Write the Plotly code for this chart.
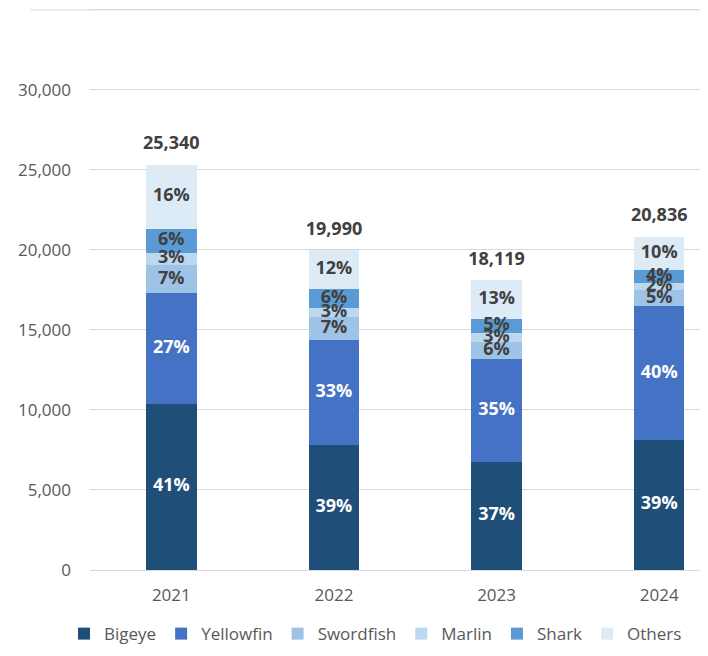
import plotly.graph_objects as go

years = ["2021", "2022", "2023", "2024"]
series_names = ["Bigeye", "Yellowfin", "Swordfish", "Marlin", "Shark", "Others"]
bigeye = [10390, 7790, 6760, 8130]
yellowfin = [6900, 6600, 6400, 8340]
swordfish = [1780, 1400, 1060, 1040]
marlin = [760, 600, 580, 420]
shark = [1480, 1200, 900, 830]
others = [4030, 2400, 2419, 2076]
y_ticks = [0, 5000, 10000, 15000, 20000, 25000, 30000, 35000]

series = [bigeye, yellowfin, swordfish, marlin, shark, others]
colors = ["#1F4E79", "#4472C4", "#9DC3E6", "#BDD7EE", "#5B9BD5", "#DDEBF7"]
text_colors = ["#FFFFFF", "#FFFFFF", "#404040", "#404040", "#404040", "#404040"]
totals = [sum(v) for v in zip(*series)]

FONT = "Open Sans"
fig = go.Figure()
for name, vals, col in zip(series_names, series, colors):
    fig.add_trace(go.Bar(
        name=name, x=years, y=vals, marker=dict(color=col, line=dict(width=0)),
        hoverinfo="skip",
    ))

# percentage labels at the middle of each stacked segment
base = [0] * len(years)
for name, vals, tcol in zip(series_names, series, text_colors):
    mids = [b + v / 2 for b, v in zip(base, vals)]
    pct = [f"{round(v / t * 100):.0f}%" for v, t in zip(vals, totals)]
    fig.add_trace(go.Scatter(
        x=years, y=mids, text=pct, mode="text", textposition="middle center",
        textfont=dict(family=FONT, size=18, color=tcol, weight="bold"),
        showlegend=False, hoverinfo="skip", cliponaxis=False,
    ))
    base = [b + v for b, v in zip(base, vals)]

# totals above each bar
fig.add_trace(go.Scatter(
    x=years, y=totals, text=[f"{t:,}" for t in totals], mode="markers+text",
    textposition="top center", marker=dict(size=16, color="rgba(0,0,0,0)"),
    textfont=dict(family=FONT, size=18, color="#404040", weight="bold"),
    showlegend=False, hoverinfo="skip", cliponaxis=False,
))

# top frame line extending over the label area
fig.add_shape(type="line", xref="paper", yref="y", x0=-0.097, x1=1,
              y0=y_ticks[-1], y1=y_ticks[-1], line=dict(color="#D9D9D9", width=1),
              layer="below")

# page body adds an 8px offset; margins compensate for it
fig.update_layout(
    width=708, height=656,
    margin=dict(l=82, r=8, t=0, b=94, autoexpand=False),
    barmode="stack", bargap=0.69,
    plot_bgcolor="white", paper_bgcolor="white",
    showlegend=True,
    legend=dict(orientation="h", x=0.462, xanchor="center", y=-0.114, yanchor="middle",
                font=dict(family=FONT, size=17, color="#595959"),
                traceorder="normal", itemwidth=30),
    font=dict(family=FONT),
)
fig.update_xaxes(type="category", range=[-0.5, 3.3], showgrid=False, showline=True,
                 linecolor="#D9D9D9", ticks="", automargin=False, ticklabelstandoff=10,
                 tickfont=dict(family=FONT, size=17, color="#595959"))
fig.update_yaxes(range=[0, 35120], tickvals=y_ticks,
                 ticktext=[f"{v:,}" for v in y_ticks[:-1]] + [""],
                 showgrid=True, gridcolor="#D9D9D9", gridwidth=1, zeroline=False,
                 showline=False, ticks="", ticklabelstandoff=18, automargin=False,
                 tickfont=dict(family=FONT, size=17, color="#595959"))

fig.write_html("out.html")
